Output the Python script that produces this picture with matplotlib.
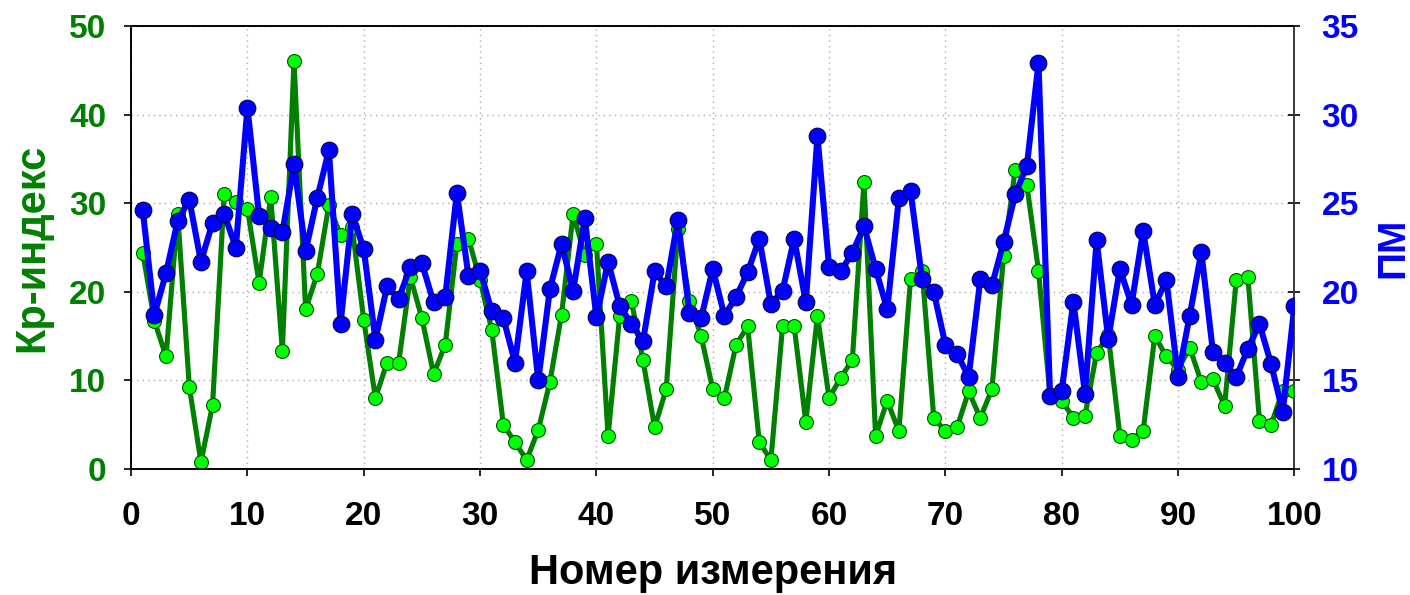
#!/usr/bin/env python3
"""Kp-индекс и ПМ по номерам измерений (две оси Y)."""
import matplotlib
matplotlib.use("Agg")
import matplotlib.pyplot as plt
import numpy as np

plt.rcParams["font.family"] = ["Liberation Sans", "DejaVu Sans"]
plt.rcParams["font.weight"] = "bold"

N = np.arange(1, 101)

KP = [
    24.4, 16.7, 12.7, 28.8, 9.3, 0.75, 7.2, 31.0, 30.1, 29.4,
    21.0, 30.7, 13.3, 46.1, 18.0, 22.0, 29.8, 26.4, 27.3, 16.8,
    8.0, 12.0, 12.0, 21.7, 17.0, 10.7, 14.0, 25.4, 26.0, 21.3,
    15.7, 5.0, 3.0, 1.0, 4.4, 9.8, 17.4, 28.8, 24.1, 25.4,
    3.7, 17.3, 19.0, 12.3, 4.7, 9.0, 27.1, 19.0, 15.0, 9.0,
    8.0, 14.0, 16.1, 3.0, 1.0, 16.1, 16.1, 5.3, 17.3, 8.0,
    10.3, 12.3, 32.4, 3.7, 7.7, 4.25, 21.4, 22.4, 5.75, 4.25,
    4.7, 8.75, 5.75, 9.0, 24.0, 33.8, 32.1, 22.4, 8.2, 7.7,
    5.75, 6.0, 13.1, 15.1, 3.7, 3.3, 4.3, 15.0, 12.7, 11.2,
    13.7, 9.8, 10.1, 7.1, 21.3, 21.7, 5.4, 5.0, 8.8, 8.8,
]

PM = [
    24.6, 18.7, 21.05, 24.0, 25.2, 21.7, 23.9, 24.4, 22.5, 30.4,
    24.3, 23.6, 23.35, 27.2, 22.3, 25.3, 28.0, 18.2, 24.4, 22.4,
    17.3, 20.3, 19.6, 21.4, 21.6, 19.4, 19.7, 25.6, 20.9, 21.2,
    18.9, 18.5, 16.0, 21.15, 15.0, 20.15, 22.7, 20.06, 24.15, 18.55,
    21.7, 19.2, 18.2, 17.2, 21.15, 20.3, 24.06, 18.8, 18.5, 21.3,
    18.65, 19.7, 21.1, 23.0, 19.3, 20.06, 23.0, 19.4, 28.8, 21.4,
    21.15, 22.2, 23.7, 21.3, 19.0, 25.3, 25.7, 20.7, 20.0, 17.0,
    16.5, 15.2, 20.7, 20.36, 22.8, 25.5, 27.1, 32.9, 14.1, 14.4,
    19.45, 14.25, 22.9, 17.33, 21.3, 19.27, 23.44, 19.27, 20.64, 15.19,
    18.65, 22.24, 16.6, 15.98, 15.17, 16.79, 18.18, 15.92, 13.21, 19.2,
]

GREEN = "#008000"
BLUE = "#0000ff"

fig = plt.figure(figsize=(14.1, 5.95), dpi=100)
ax = fig.add_axes([0.093, 0.212, 0.825, 0.744])
ax2 = ax.twinx()

ax.plot(N, KP, color=GREEN, lw=3.7, marker="o", ms=10,
        mfc="#00ff00", mec="#005500", mew=0.8, zorder=3)
ax2.plot(N, PM, color=BLUE, lw=4.4, marker="o", ms=12,
         mfc=BLUE, mec="#000050", mew=0.8, zorder=3)

ax.set_xlim(0, 100)
ax.set_ylim(0, 50)
ax2.set_ylim(10, 35)
ax.set_xticks(np.arange(0, 101, 10))
ax.set_yticks(np.arange(0, 51, 10))
ax2.set_yticks(np.arange(10, 36, 5))

ax.grid(True, ls=(0, (1, 3)), color="#aaaaaa", lw=1)

ax.tick_params(axis="x", direction="out", length=5, width=1.2,
               labelsize=24, pad=18, colors="black")
ax.tick_params(axis="y", direction="out", length=5, width=1.2,
               labelsize=24, pad=13, labelcolor=GREEN)
ax2.tick_params(axis="y", direction="inout", length=9, width=1.2,
                labelsize=24, pad=15, labelcolor=BLUE)

for t in ax.get_xticklabels() + ax.get_yticklabels() + ax2.get_yticklabels():
    t.set_fontweight("bold")

ax.set_xlabel("Номер измерения", fontsize=30, fontweight="bold", labelpad=15)
ax.set_ylabel("Кр-индекс", fontsize=30, fontweight="bold", color=GREEN, labelpad=12)
ax2.set_ylabel("ПМ", fontsize=28, fontweight="bold", color=BLUE, labelpad=12)

for a in (ax, ax2):
    for s in a.spines.values():
        s.set_linewidth(1.2)
ax2.spines["right"].set_color("#444444")

fig.savefig("out.png", dpi=100)
